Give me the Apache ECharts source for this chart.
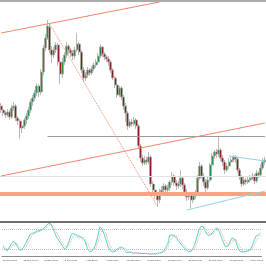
<!DOCTYPE html>
<html>
<head>
<meta charset="utf-8">
<script src="https://cdn.jsdelivr.net/npm/echarts@6.0.0/dist/echarts.min.js"></script>
<style>
  html, body { margin: 0; padding: 0; background: #fff; }
  #chart { width: 266px; height: 266px; }
</style>
</head>
<body>
<div id="chart"></div>
<script>
  // time labels, one every 10 bars
  const tickLabels = ['20 Sep 12:00', '25 Sep 00:00', '27 Sep 16:00', '2 Oct 04:00', '4 Oct 20:00',
    '9 Oct 08:00', '12 Oct 00:00', '16 Oct 12:00', '19 Oct 04:00', '23 Oct 16:00',
    '26 Oct 08:00', '30 Oct 20:00', '2 Nov 12:00']

  // [open, close, low, high]
  const candles = [
    [116, 112, 109, 119], [112, 109, 106, 114], [109, 107, 104, 111], [107, 110, 105, 113], [110, 105, 102, 112],
    [105, 114, 103, 117], [114, 116, 111, 120], [116, 104, 101, 118], [104, 101, 97, 106], [101, 94, 83, 103],
    [94, 96, 89, 100], [96, 102, 93, 104], [102, 106, 98, 109], [106, 112, 103, 115], [112, 120, 109, 123],
    [120, 124, 116, 127], [124, 129, 121, 132], [129, 136, 126, 139], [136, 130, 125, 138], [130, 150, 127, 153],
    [150, 174, 147, 177], [174, 184, 171, 188], [184, 196, 182, 202], [195, 172, 169, 198], [172, 167, 159, 176],
    [167, 172, 164, 175], [172, 177, 169, 180], [177, 160, 156, 179], [160, 148, 138, 162], [148, 160, 144, 164],
    [160, 167, 157, 170], [167, 176, 164, 180], [176, 172, 168, 178], [172, 169, 165, 174], [169, 166, 162, 172],
    [166, 172, 163, 175], [172, 178, 170, 189], [178, 170, 167, 180], [170, 152, 149, 172], [152, 144, 140, 155],
    [144, 147, 141, 150], [147, 152, 144, 155], [152, 149, 146, 154], [149, 153, 147, 156], [153, 157, 151, 160],
    [157, 160, 154, 163], [160, 166, 158, 169], [166, 175, 164, 178], [175, 168, 165, 176], [168, 165, 162, 170],
    [165, 163, 160, 167], [163, 160, 156, 166], [160, 152, 149, 162], [152, 144, 142, 154], [144, 137, 134, 146],
    [137, 127, 124, 139], [127, 134, 125, 136], [134, 125, 122, 136], [125, 116, 112, 127], [116, 109, 100, 119],
    [109, 96, 92, 111], [96, 100, 94, 103], [100, 98, 95, 103], [98, 102, 96, 105], [102, 96, 93, 104],
    [96, 76, 73, 98], [76, 64, 60, 78], [64, 59, 56, 67], [59, 62, 57, 66], [62, 60, 57, 65],
    [60, 65, 58, 70], [65, 38, 35, 67], [38, 32, 28, 41], [32, 27, 23, 35], [27, 22, 15, 30],
    [22, 30, 19, 33], [30, 32, 26, 36], [32, 36, 29, 39], [36, 32, 28, 38], [32, 34, 29, 37],
    [34, 40, 31, 42], [40, 46, 37, 50], [46, 39, 36, 48], [39, 36, 32, 42], [36, 38, 33, 41],
    [38, 44, 35, 52], [44, 37, 33, 46], [37, 30, 26, 39], [30, 25, 21, 33], [25, 27, 22, 30],
    [27, 22, 14, 29], [22, 26, 19, 29], [26, 29, 23, 32], [29, 44, 27, 47], [44, 56, 42, 60],
    [56, 46, 43, 58], [46, 40, 36, 49], [40, 34, 29, 43], [34, 42, 32, 45], [42, 57, 40, 59],
    [57, 66, 54, 69], [66, 70, 63, 72], [70, 68, 64, 73], [68, 72, 65, 86], [72, 64, 61, 74],
    [64, 60, 56, 67], [60, 52, 48, 62], [52, 56, 50, 59], [56, 60, 53, 64], [60, 62, 58, 65],
    [62, 65, 60, 67], [65, 63, 59, 67], [63, 52, 49, 65], [52, 45, 42, 54], [45, 38, 35, 47],
    [38, 42, 36, 45], [42, 40, 37, 44], [40, 42, 38, 45], [42, 44, 40, 47], [44, 46, 42, 49],
    [46, 41, 38, 48], [41, 49, 39, 52], [49, 47, 44, 51], [47, 54, 45, 58], [54, 60, 52, 64],
    [60, 62, 57, 65]
  ]

  // stochastic %K and %D
  const stochK = [27, 20, 15, 25, 36, 43, 38, 28, 18, 17, 26, 36, 50, 62, 66, 68, 71, 74, 75, 78,
    83, 89, 95, 96, 85, 70, 56, 47, 38, 28, 19, 27, 42, 62, 67, 63, 58, 56, 55, 50,
    42, 22, 13, 14, 20, 35, 58, 85, 80, 66, 48, 28, 17, 12, 13, 18, 22, 26, 25, 18,
    10, 10, 12, 9, 8, 9, 8, 7, 7, 8, 7, 6, 6, 7, 6, 8, 9, 11, 14, 25,
    36, 62, 62, 60, 55, 46, 38, 30, 24, 18, 14, 12, 20, 33, 53, 75, 86, 88, 75, 64,
    60, 65, 70, 80, 82, 72, 55, 40, 27, 28, 38, 52, 52, 42, 25, 14, 12, 12, 14, 16,
    19, 30, 48, 60, 62, 68]
  const stochD = [32, 26, 21, 20, 25, 35, 39, 36, 28, 21, 20, 26, 37, 49, 59, 65, 68, 71, 73, 76,
    79, 83, 89, 93, 92, 84, 70, 58, 47, 38, 28, 25, 29, 44, 57, 64, 63, 59, 56, 54,
    49, 38, 26, 16, 16, 23, 38, 59, 74, 77, 65, 47, 31, 19, 14, 14, 18, 22, 24, 23,
    18, 13, 11, 10, 10, 9, 8, 8, 7, 7, 7, 7, 6, 6, 6, 7, 8, 9, 11, 17,
    25, 41, 53, 61, 59, 54, 46, 38, 31, 24, 19, 15, 15, 22, 35, 54, 71, 83, 83, 76,
    66, 63, 65, 72, 77, 78, 70, 56, 41, 32, 31, 39, 47, 49, 40, 27, 17, 13, 13, 14,
    16, 22, 32, 46, 57, 63]
  const stochLevels = [20, 80]

  // drawn objects: [barIndex, price]
  const channelUpper = [[0, 189], [75, 220]]
  const channelLower = [[0, 46], [125, 99]]
  const dropLine = [[23, 198], [74, 16]]
  const resistance = [[22, 86], [125, 86]]
  const triangleTop = [[108, 66], [125, 61]]
  const triangleBottom = [[88, 12], [125, 31]]
  const supportZone = 28
  const faintLevel = 46

  const categories = candles.map((c, i) => (i % 10 === 0 && tickLabels[i / 10]) || String(i))

  function seg(pts, style) {
    return [{ coord: pts[0], lineStyle: style }, { coord: pts[1] }]
  }

  const red = '#f6866b'
  const blue = '#8fd3ee'

  const option = {
    backgroundColor: '#ffffff',
    animation: false,
    grid: [
      { left: 0, right: 0, top: 2, height: 220 },
      { left: 0, right: 0, top: 222, height: 34 }
    ],
    xAxis: [
      {
        type: 'category', gridIndex: 0, data: categories,
        axisLine: { lineStyle: { color: '#6e6e6e', width: 2 } },
        axisTick: { show: false }, axisLabel: { show: false }
      },
      {
        type: 'category', gridIndex: 0, position: 'top', offset: 1, data: categories,
        axisLine: { lineStyle: { color: '#ababab', width: 2 } },
        axisTick: { show: false }, axisLabel: { show: false }
      },
      {
        type: 'category', gridIndex: 1, data: categories,
        axisLine: { lineStyle: { color: '#8a8a8a', width: 1 } },
        axisTick: { interval: 9, length: 2, alignWithLabel: true, lineStyle: { color: '#8a8a8a' } },
        axisLabel: {
          interval: 9, fontSize: 2.4, color: '#444', align: 'left', margin: 3,
          fontFamily: 'Liberation Sans'
        }
      }
    ],
    yAxis: [
      { type: 'value', gridIndex: 0, min: 0, max: 220, show: false },
      { type: 'value', gridIndex: 1, min: 0, max: 100, show: false }
    ],
    series: [
      {
        type: 'candlestick',
        xAxisIndex: 0, yAxisIndex: 0,
        data: candles,
        barWidth: 2.4,
        itemStyle: {
          color: '#2f8a45', color0: '#8c1d1d',
          borderColor: '#a8a8a8', borderColor0: '#a8a8a8', borderWidth: 0.8
        },
        markLine: {
          silent: true, symbol: 'none', animation: false,
          label: { show: false },
          data: [
            { yAxis: faintLevel, lineStyle: { color: '#e2e2e2', width: 1, type: 'solid' } },
            { yAxis: supportZone, lineStyle: { color: '#fba282', width: 4, type: 'solid' } },
            seg(resistance, { color: '#9a9a9a', width: 1, type: 'solid' }),
            seg(channelUpper, { color: red, width: 1, type: 'solid' }),
            seg(channelLower, { color: red, width: 1, type: 'solid' }),
            seg(dropLine, { color: red, width: 1, type: 'dotted' }),
            seg(triangleTop, { color: blue, width: 1, type: 'solid' }),
            seg(triangleBottom, { color: blue, width: 1, type: 'solid' })
          ]
        }
      },
      {
        type: 'line', name: '%D',
        xAxisIndex: 2, yAxisIndex: 1,
        data: stochD, symbol: 'none',
        lineStyle: { color: '#f3a39c', width: 1, type: 'dotted' }
      },
      {
        type: 'line', name: '%K',
        xAxisIndex: 2, yAxisIndex: 1,
        data: stochK, symbol: 'none',
        lineStyle: { color: '#55d3c8', width: 1 },
        markLine: {
          silent: true, symbol: 'none', animation: false,
          label: { show: false },
          lineStyle: { color: '#bdbdbd', width: 1, type: 'dotted' },
          data: stochLevels.map(v => ({ yAxis: v }))
        }
      }
    ]
  }

  const myChart = echarts.init(document.getElementById('chart'))
  myChart.setOption(option)
</script>
</body>
</html>
